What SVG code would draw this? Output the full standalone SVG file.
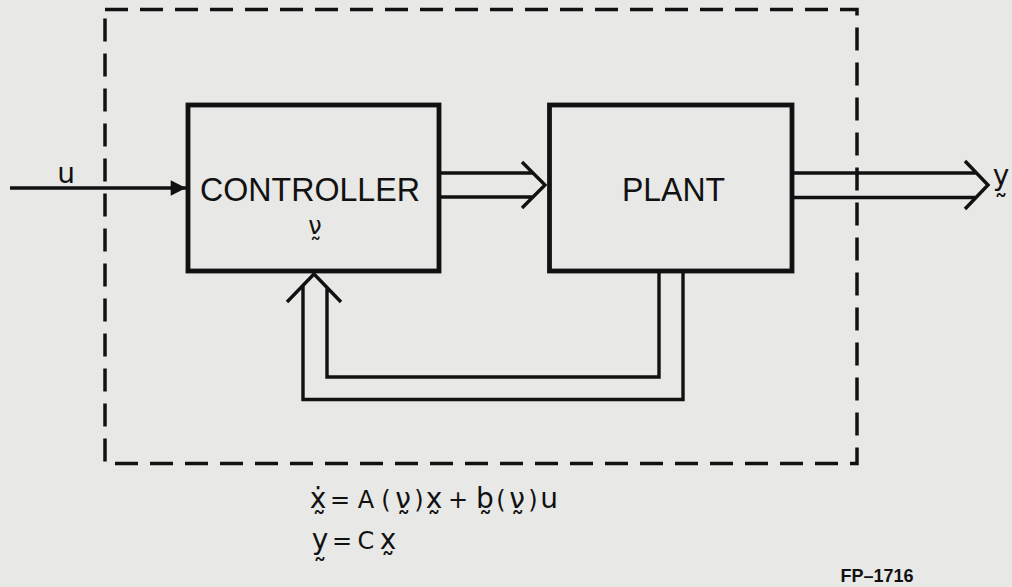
<svg xmlns="http://www.w3.org/2000/svg" width="1012" height="587" viewBox="0 0 1012 587">
<defs>
<style>
.bg{fill:#e8e8e6}
.box{fill:none;stroke:#111;stroke-width:4.8}
.dash{fill:none;stroke:#111;stroke-width:3.5;stroke-dasharray:23 12}
.ln{fill:none;stroke:#111;stroke-width:3.4;stroke-linejoin:miter;stroke-linecap:butt}
.lbl{font-family:"Liberation Sans","DejaVu Sans",sans-serif;fill:#111}
.big{font-size:33px}
.eq{font-family:"DejaVu Sans",sans-serif;font-size:24px;fill:#111}
.lc{font-size:28px}
.fp{font-family:"Liberation Sans",sans-serif;font-size:18px;font-weight:bold;fill:#111}
</style>
<marker id="tri" viewBox="0 0 10 10" refX="10" refY="5" markerWidth="6" markerHeight="4.5" markerUnits="strokeWidth" orient="auto">
<path d="M0,0 L10,5 L0,10 z" fill="#111"/>
</marker>
</defs>
<rect class="bg" x="0" y="0" width="1012" height="587"/>
<g id="boundary">
<rect class="dash" x="105" y="9.5" width="752" height="454"/>
</g>
<g id="controller">
<rect class="box" x="188" y="105" width="251" height="166"/>
<text class="lbl big" x="200" y="201" textLength="220" lengthAdjust="spacingAndGlyphs">CONTROLLER</text>
<text class="eq" x="315" y="234" font-size="26" text-anchor="middle">ν̰</text>
</g>
<g id="plant">
<rect class="box" x="549.5" y="105" width="242.5" height="166"/>
<text class="lbl big" x="622" y="201" textLength="103" lengthAdjust="spacingAndGlyphs">PLANT</text>
</g>
<g id="connectors">
<line class="ln" x1="10" y1="188" x2="186" y2="188" marker-end="url(#tri)"/>
<path class="ln" d="M441,173 H533 M441,197 H533 M522,162 L545,185 L522,208"/>
<path class="ln" d="M794,173 H977 M794,197.5 H977 M965,161 L988,185 L965,209"/>
<path class="ln" d="M659,273 V377 H327 V287 M683,273 V399.5 H303 V286 M287,302 L314,274 L341,302"/>
</g>
<g id="labels">
<text class="eq lc" x="66" y="183" text-anchor="middle">u</text>
<text class="eq lc" x="1001" y="185" text-anchor="middle">y̰</text>
</g>
<g id="equations">
<text class="eq" y="508" text-anchor="middle"><tspan class="lc" x="318">ẋ̰</tspan><tspan x="340">=</tspan><tspan x="366">A</tspan><tspan x="386">(</tspan><tspan class="lc" x="403">ν̰</tspan><tspan x="419">)</tspan><tspan class="lc" x="434">x̰</tspan><tspan x="458">+</tspan><tspan class="lc" x="485">b̰</tspan><tspan x="501">(</tspan><tspan class="lc" x="517">ν̰</tspan><tspan x="533">)</tspan><tspan class="lc" x="549">u</tspan></text>
<text class="eq" y="549" text-anchor="middle"><tspan class="lc" x="320">y̰</tspan><tspan x="342">=</tspan><tspan x="366">C</tspan><tspan class="lc" x="388">x̰</tspan></text>
<text class="fp" x="877" y="582" text-anchor="middle">FP–1716</text>
</g>
</svg>
